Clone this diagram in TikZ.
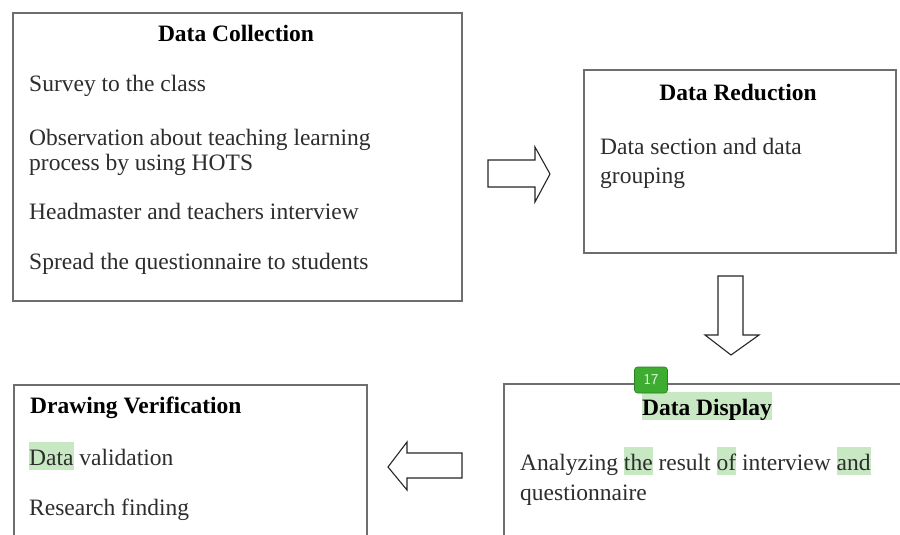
\documentclass[tikz,border=0pt]{standalone}
\usepackage{fontspec}
\setmainfont{Liberation Serif}
\definecolor{hlgreen}{RGB}{200,232,196}
\definecolor{boxgray}{RGB}{110,110,110}
\definecolor{tagfill}{RGB}{62,172,48}
\definecolor{tagdraw}{RGB}{40,130,30}
\definecolor{bodytext}{RGB}{45,45,45}
\newcommand\hlword[1]{\setbox0\hbox{#1}\rlap{\color{hlgreen}\rule[-0.2em]{\wd0}{1.16em}}\box0\relax}
\tikzset{
  stagebox/.style={draw=boxgray, line width=1.6pt, fill=white, anchor=north west, inner sep=0pt},
  titletext/.style={anchor=base, inner sep=0pt, font=\fontsize{23.5}{28}\selectfont\bfseries, text=black},
  titletextw/.style={anchor=base west, inner sep=0pt, font=\fontsize{23.5}{28}\selectfont\bfseries, text=black},
  itemtext/.style={anchor=base west, inner sep=0pt, font=\fontsize{23.5}{28}\selectfont, text=bodytext},
  blockarrow/.style={draw=black!85, line width=1.1pt, fill=white, line join=miter},
  tagbox/.style={fill=tagfill, draw=tagdraw, line width=0.6pt, rounded corners=3pt, minimum width=33pt, minimum height=26pt, inner sep=0pt, text=white!90!green, font=\sffamily\fontsize{15}{15}\selectfont}
}
\begin{document}
\begin{tikzpicture}[x=1pt,y=-1pt]
\useasboundingbox (0,0) rectangle (900,535);
\clip (0,0) rectangle (900,535);
\fill[white] (0,0) rectangle (900,535);

% boxes
\node[stagebox, minimum width=449pt, minimum height=288pt] (collect) at (12,12) {};
\node[stagebox, minimum width=312pt, minimum height=183pt] (reduce) at (583,69) {};
\node[stagebox, minimum width=410pt, minimum height=170pt] (display) at (503,383) {};
\node[stagebox, minimum width=353pt, minimum height=170pt] (verify) at (13,384) {};

% Data Collection
\node[titletext] (t1) at (236,42) {Data Collection};
\node[itemtext] (c1) at (29,92) {Survey to the class};
\node[itemtext] (c2) at (29,145) {Observation about teaching learning};
\node[itemtext] (c3) at (29,170) {process by using HOTS};
\node[itemtext] (c4) at (29,219) {Headmaster and teachers interview};
\node[itemtext] (c5) at (29,269) {Spread the questionnaire to students};

% Data Reduction
\node[titletext] (t2) at (738,100) {Data Reduction};
\node[itemtext] (r1) at (600,154) {Data section and data};
\node[itemtext] (r2) at (600,183) {grouping};

% Data Display
\node[titletext] (t3) at (707,415) {\hlword{Data Display}};
\node[itemtext] (d1) at (520,470) {Analyzing \hlword{the} result \hlword{of} interview \hlword{and}};
\node[itemtext] (d2) at (520,500) {questionnaire};
\node[tagbox] (tag) at (651,380) {17};

% Drawing Verification
\node[titletextw] (t4) at (30,413) {Drawing Verification};
\node[itemtext] (v1) at (29,465) {\hlword{Data} validation};
\node[itemtext] (v2) at (29,515) {Research finding};

% block arrows
\draw[blockarrow] (488,160) -- (535,160) -- (535,147) -- (550,174) -- (535,202) -- (535,187) -- (488,187) -- cycle;
\draw[blockarrow] (718,276) -- (743,276) -- (743,335) -- (759,335) -- (731,355) -- (705,335) -- (718,335) -- cycle;
\draw[blockarrow] (462,453) -- (407,453) -- (407,442) -- (388,467) -- (407,490) -- (407,478) -- (462,478) -- cycle;
\end{tikzpicture}
\end{document}
